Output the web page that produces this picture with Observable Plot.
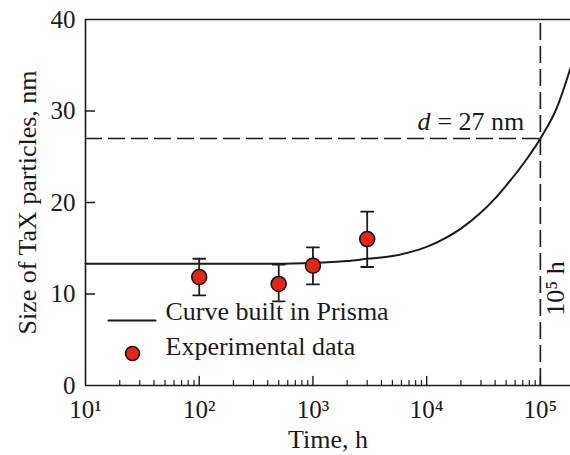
<!DOCTYPE html>
<html>
<head>
<meta charset="utf-8">
<script src="https://cdn.jsdelivr.net/npm/d3@7"></script>
<script src="https://cdn.jsdelivr.net/npm/@observablehq/plot@0.6"></script>
<style>
  html, body { margin: 0; padding: 0; background: #fff; }
</style>
</head>
<body>
<div id="chart"></div>
<script>
// ---- data ----
const curveTime = [10, 100, 300, 1000, 2000, 3000, 5000, 7000, 10000, 15000, 20000, 30000, 40000, 50000, 70000, 100000, 140000, 184000];
const curveSize = [13.3, 13.3, 13.3, 13.4, 13.6, 13.85, 14.15, 14.55, 15.15, 16.2, 17.15, 18.9, 20.45, 21.85, 24.15, 27.0, 30.4, 34.7];

const expTime = [100, 500, 1000, 3000];
const expSize = [11.85, 11.1, 13.1, 16.0];
const expLow  = [9.85, 9.2, 11.05, 12.95];
const expHigh = [13.85, 13.2, 15.1, 19.0];

const xDomain = [10, 184000];
const yDomain = [0, 40];
const xMajorTicks = [10, 100, 1000, 10000, 100000];
const xMinorTicks = [20,30,40,50,60,70,80,90, 200,300,400,500,600,700,800,900,
                     2000,3000,4000,5000,6000,7000,8000,9000, 20000,30000,40000,50000,60000,70000,80000,90000];
const yTicks = [0, 10, 20, 30, 40];
const yInnerTicks = [10, 20, 30];

const dLimit = 27;          // nm
const tLimit = 100000;      // h
const legendLabels = ["Curve built in Prisma", "Experimental data"];
const xLabel = "Time, h";
const yLabel = "Size of TaX particles, nm";

// ---- build ----
const curve = curveTime.map((t, i) => ({t, d: curveSize[i]}));
const exp = expTime.map((t, i) => ({t, d: expSize[i], lo: expLow[i], hi: expHigh[i]}));
const sup = {"1": "\u00B9", "2": "\u00B2", "3": "\u00B3", "4": "\u2074", "5": "\u2075"};
const fmt = d => "10" + sup[String(Math.round(Math.log10(d)))];
const lineShape = {draw(ctx, l) { ctx.moveTo(0, 0); ctx.lineTo(0, -l); }};
const RED = "#e2261c";
const FS = 26;

const plot = Plot.plot({
  width: 570,
  height: 455,
  marginLeft: 85,
  marginRight: 0,
  marginTop: 19,
  marginBottom: 70,
  style: {fontFamily: "'Liberation Serif', 'Times New Roman', serif", fontSize: FS + "px", color: "#1a1a1a", background: "#fff"},
  x: {type: "log", domain: xDomain},
  y: {domain: yDomain},
  marks: [
    // axes labels
    Plot.axisX({ticks: xMajorTicks, tickFormat: fmt, tickSize: 0, tickPadding: 15, label: null, fontSize: 25}),
    Plot.axisY({ticks: yTicks, tickSize: 0, tickPadding: 10, label: null, fontSize: 25}),
    Plot.text([xLabel], {frameAnchor: "bottom", dy: 62, lineAnchor: "bottom", fontSize: FS}),
    Plot.text([yLabel], {frameAnchor: "left", dx: -58, rotate: -90, textAnchor: "middle", fontSize: FS}),
    // frame
    Plot.ruleX([xDomain[0]], {strokeWidth: 1.6}),
    Plot.ruleY([yDomain[0], yDomain[1]], {strokeWidth: 1.6}),
    // inward ticks
    Plot.vector(xMajorTicks.slice(1), {x: d => d, y: () => yDomain[0], length: 9, anchor: "start", rotate: 0, shape: lineShape, strokeWidth: 1.4}),
    Plot.vector(xMinorTicks, {x: d => d, y: () => yDomain[0], length: 5, anchor: "start", rotate: 0, shape: lineShape, strokeWidth: 1.2}),
    Plot.vector(yInnerTicks, {x: () => xDomain[0], y: d => d, length: 9, anchor: "start", rotate: 90, shape: lineShape, strokeWidth: 1.4}),
    // dashed guides
    Plot.ruleY([dLimit], {x1: xDomain[0], x2: tLimit, strokeDasharray: "17,6", strokeWidth: 1.6}),
    Plot.ruleX([tLimit], {y1: yDomain[0], y2: 39.6, strokeDasharray: "17,6", strokeWidth: 1.6}),
    // annotations
    Plot.text(["d"], {x: () => tLimit, y: () => dLimit, dx: -123, dy: -8, lineAnchor: "bottom", textAnchor: "start", fontStyle: "italic", fontSize: FS}),
    Plot.text(["= " + dLimit + " nm"], {x: () => tLimit, y: () => dLimit, dx: -103, dy: -8, lineAnchor: "bottom", textAnchor: "start", fontSize: FS}),
    Plot.text([fmt(tLimit) + " h"], {x: () => tLimit, frameAnchor: "bottom", dx: 24, dy: -97, rotate: -90, textAnchor: "middle", fontSize: FS}),
    // curve
    Plot.line(curve, {x: "t", y: "d", curve: "monotone-x", strokeWidth: 2}),
    // error bars
    Plot.ruleX(exp, {x: "t", y1: "lo", y2: "hi", strokeWidth: 1.8}),
    Plot.vector(exp, {x: "t", y: "lo", length: 12, anchor: "middle", rotate: 90, shape: lineShape, strokeWidth: 1.8}),
    Plot.vector(exp, {x: "t", y: "hi", length: 12, anchor: "middle", rotate: 90, shape: lineShape, strokeWidth: 1.8}),
    Plot.dot(exp, {x: "t", y: "d", r: 7.5, fill: RED, stroke: "#111", strokeWidth: 1.5}),
    // legend
    Plot.vector([0], {frameAnchor: "bottom-left", dx: 23, dy: -65, length: 47, anchor: "start", rotate: 90, shape: lineShape, strokeWidth: 2}),
    Plot.text([legendLabels[0]], {frameAnchor: "bottom-left", dx: 80, dy: -66, textAnchor: "start", fontSize: FS}),
    Plot.dot([0], {frameAnchor: "bottom-left", dx: 47, dy: -32, r: 7, fill: RED, stroke: "#111", strokeWidth: 1.5}),
    Plot.text([legendLabels[1]], {frameAnchor: "bottom-left", dx: 80, dy: -31, textAnchor: "start", fontSize: FS})
  ]
});
document.getElementById("chart").appendChild(plot);
</script>
</body>
</html>
